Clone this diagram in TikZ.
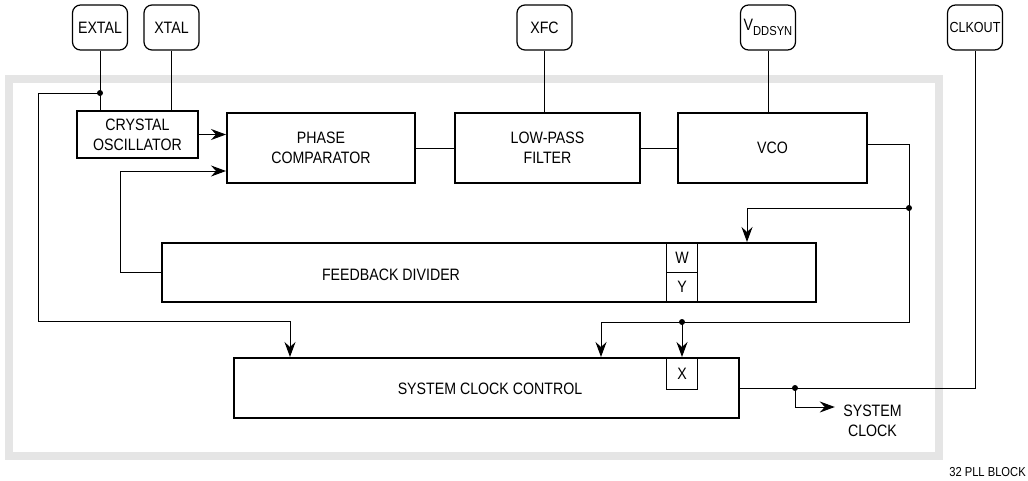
\documentclass[tikz,border=0pt]{standalone}
\usepackage{fontspec}
\setmainfont{Liberation Sans}[FakeStretch=0.86]
\usetikzlibrary{positioning,arrows.meta,calc}

\begin{document}
\begin{tikzpicture}[
    x=1pt, y=-1pt,
    font=\fontsize{16.5}{20}\selectfont,
    block/.style={rectangle, draw, line width=2pt, align=center, inner sep=0pt},
    pinbox/.style={rectangle, draw, rounded corners=8pt, line width=1.2pt, minimum width=55pt, minimum height=45pt, inner sep=1pt},
    cell/.style={rectangle, draw, line width=1pt, minimum width=31pt, inner sep=0pt},
    wire/.style={line width=1pt},
    arrow/.style={wire, -{Stealth[length=15pt, width=11pt, inset=5pt]}},
    band/.style={draw=gray!20, line width=8pt}
]
\useasboundingbox (0,0) rectangle (1028,480);

% Shaded module boundary
\draw[band] (9,78.5) rectangle (939,456);

% Pins
\node[pinbox] (extal) at (100,27.5) {EXTAL};
\node[pinbox] (xtal) at (171.5,27.5) {XTAL};
\node[pinbox] (xfc) at (544.5,27.5) {XFC};
\node[pinbox] (vddsyn) at (768,27.5) {V\raisebox{-5pt}{\fontsize{13}{13}\selectfont DDSYN}};
\node[pinbox] (clkout) at (975,27.5) {\fontsize{14.6}{16}\selectfont CLKOUT};

% Top row
\node[block, minimum width=121pt, minimum height=47pt, anchor=north west] (xosc) at (76,110) {CRYSTAL\\OSCILLATOR};
\node[block, minimum width=188pt, minimum height=70pt, anchor=north west] (pcomp) at (226,112) {PHASE\\COMPARATOR};
\node[block, minimum width=185pt, minimum height=70pt, right=38pt of pcomp] (lpf) {LOW-PASS\\FILTER};
\node[block, minimum width=189pt, minimum height=70pt, right=36pt of lpf] (vco) {VCO};

% Feedback divider
\node[block, minimum width=654pt, minimum height=59pt, anchor=north west] (fbdiv) at (161,242) {};
\node[cell, minimum height=30pt, anchor=north west] (wcell) at (666,242) {W};
\node[cell, minimum height=29pt, anchor=north west] (ycell) at (666,272) {Y};
\node (fblabel) at (391,275) {FEEDBACK DIVIDER};

% System clock control
\node[block, minimum width=505pt, minimum height=60pt, anchor=north west] (scc) at (233,357) {};
\node[cell, minimum height=32pt, anchor=north west] (xcell) at (666,357) {X};
\node (scclabel) at (490,389) {SYSTEM CLOCK CONTROL};

% Pin lines
\draw[wire] (extal.south) -- (extal.south |- xosc.north);
\draw[wire] (xtal.south) -- (xtal.south |- xosc.north);
\draw[wire] (xfc.south) -- (xfc.south |- lpf.north);
\draw[wire] (vddsyn.south) -- (vddsyn.south |- vco.north);

% Loop path
\draw[arrow] (xosc.east) -- (xosc.east -| pcomp.west);
\draw[wire] (pcomp) -- (lpf);
\draw[wire] (lpf) -- (vco);
\draw[arrow] (fbdiv.west) -- ++(-41,0) |- ([yshift=-23pt]pcomp.west);

% EXTAL tap to system clock control
\coordinate (tapx) at (100,93);
\draw[arrow] (tapx) -- ++(-62,0) -- ++(0,228) -| ([xshift=57pt]scc.north west);

% VCO output
\coordinate (vcotap) at (909,208);
\coordinate (vcoend) at (909,322);
\coordinate (xtap) at (xcell.north |- vcoend);
\draw[arrow] ([yshift=4pt]vco.east) -| (vcoend) -| ([xshift=368pt]scc.north west);
\draw[arrow] (vcotap) -| ([xshift=586pt]fbdiv.north west);
\draw[arrow] (xtap) -- (xcell.north);

% Clock out
\draw[wire] (scc.east) -| (clkout.south);
\coordinate (clktap) at ([xshift=55pt]scc.east);
\node[align=center] (sysclk) at (872.5,421) {SYSTEM\\CLOCK};
\draw[arrow] (clktap) |- ([xshift=-5pt,yshift=14pt]sysclk.west);

% Junction dots
\foreach \p in {tapx, vcotap, xtap, clktap}
    \fill (\p) circle (3);

% Figure tag
\node[font=\fontsize{13}{15}\selectfont] (tag) at (987.5,472.5) {32 PLL BLOCK};

\end{tikzpicture}
\end{document}
